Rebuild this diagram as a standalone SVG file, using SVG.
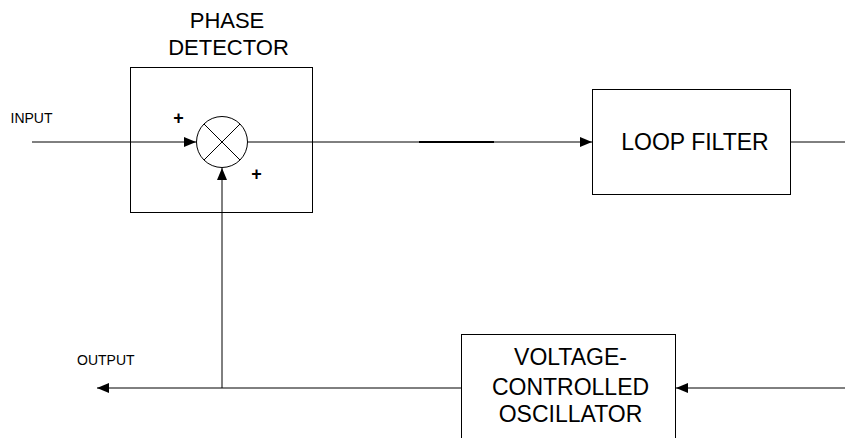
<svg xmlns="http://www.w3.org/2000/svg" width="845" height="438" viewBox="0 0 845 438">
<defs>
<style>
.box{fill:#fff;stroke:#000;stroke-width:1}
.ln{fill:none;stroke:#000;stroke-width:1}
.t{font-family:"Liberation Sans",Arial,sans-serif;fill:#000}
.big{font-size:23px;text-anchor:middle}
.sm{font-size:14px}
.pl{font-size:18px;font-weight:bold;text-anchor:middle}
</style>
<marker id="ah" viewBox="0 0 12 10" refX="12" refY="5" markerWidth="12" markerHeight="10" markerUnits="userSpaceOnUse" orient="auto">
<path d="M0,0 L12,5 L0,10 Z" fill="#000"/>
</marker>
</defs>
<g id="connectors">
<line class="ln" x1="32" y1="142" x2="196" y2="142" marker-end="url(#ah)"/>
<line class="ln" x1="248" y1="142" x2="592" y2="142" marker-end="url(#ah)"/>
<line x1="419" y1="142" x2="494" y2="142" stroke="#000" stroke-width="2"/>
<line class="ln" x1="791" y1="142" x2="845" y2="142"/>
<line class="ln" x1="845" y1="388" x2="676" y2="388" marker-end="url(#ah)"/>
<line class="ln" x1="461" y1="388" x2="97" y2="388" marker-end="url(#ah)"/>
<line class="ln" x1="222" y1="388" x2="222" y2="168" marker-end="url(#ah)"/>
</g>
<g id="phase-detector">
<rect class="box" x="130.5" y="67.5" width="182" height="145" style="fill:none"/>
<text class="t big" x="227" y="28" style="font-size:22px">PHASE</text>
<text class="t big" x="228.5" y="55" style="font-size:22px">DETECTOR</text>
<circle class="box" cx="222" cy="142" r="25.5"/>
<line class="ln" x1="204" y1="124" x2="240" y2="160"/>
<line class="ln" x1="240" y1="124" x2="204" y2="160"/>
<text class="t pl" x="178.5" y="123.5">+</text>
<text class="t pl" x="256.5" y="179.5">+</text>
</g>
<g id="loop-filter">
<rect class="box" x="592.5" y="89.5" width="198" height="105"/>
<text class="t big" x="695" y="149.5">LOOP FILTER</text>
</g>
<g id="vco">
<rect class="box" x="461.5" y="334.5" width="214" height="112"/>
<text class="t big" x="570.5" y="365">VOLTAGE-</text>
<text class="t big" x="570.5" y="395">CONTROLLED</text>
<text class="t big" x="570.5" y="422">OSCILLATOR</text>
</g>
<g id="labels">
<text class="t sm" x="10.5" y="122.5">INPUT</text>
<text class="t sm" x="77" y="365">OUTPUT</text>
</g>
</svg>
